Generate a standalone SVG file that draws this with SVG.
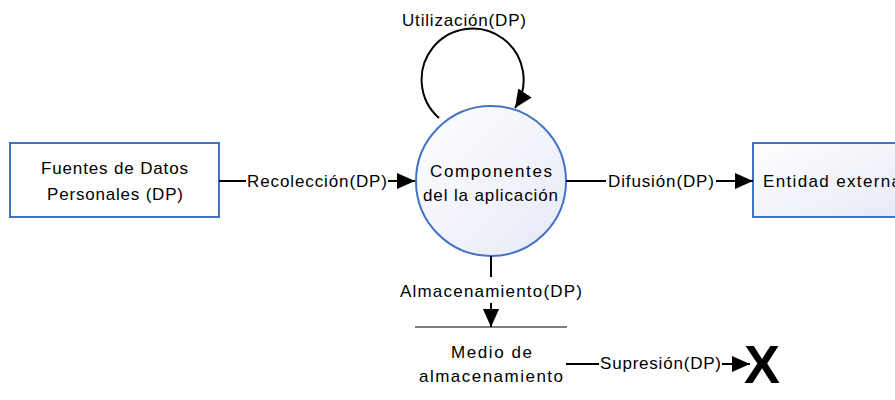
<svg xmlns="http://www.w3.org/2000/svg" width="895" height="400" viewBox="0 0 895 400">
<defs>
<linearGradient id="gc" x1="0" y1="0" x2="1" y2="1"><stop offset="0" stop-color="#ffffff"/><stop offset="1" stop-color="#e6e9f6"/></linearGradient>
<linearGradient id="gb" x1="0" y1="0" x2="1" y2="1"><stop offset="0" stop-color="#ffffff"/><stop offset="1" stop-color="#e6e9f6"/></linearGradient>
<marker id="ah2" viewBox="0 0 10 10" refX="10" refY="5" markerWidth="18" markerHeight="18" markerUnits="userSpaceOnUse" orient="auto"><path d="M0,0.5 L10,5 L0,9.5 Z" fill="#000"/></marker>
</defs>
<style>
text{font-family:"Liberation Sans",Arial,sans-serif;font-size:17px;fill:#000}
.c{text-anchor:middle}
.node{stroke:#4472c4;stroke-width:2}
.ln{stroke:#000;stroke-width:2;fill:none}
</style>
<g id="fuentes">
<rect class="node" x="10" y="143" width="209" height="74" fill="#fff"/>
<text x="114.5" y="174" class="c" textLength="147">Fuentes de Datos</text>
<text x="115" y="200" class="c" textLength="136">Personales (DP)</text>
</g>
<g id="componentes">
<circle class="node" cx="491" cy="181" r="75" fill="url(#gc)"/>
<text x="491" y="177" class="c" textLength="122">Componentes</text>
<text x="490.5" y="201" class="c" textLength="135">del la aplicación</text>
</g>
<g id="entidad">
<rect class="node" x="753" y="143" width="160" height="74" fill="url(#gb)"/>
<text x="763" y="187" textLength="138">Entidad externa</text>
</g>
<g id="medio">
<line x1="415" y1="327" x2="567" y2="327" stroke="#000" stroke-width="1"/>
<text x="491.5" y="358" class="c" textLength="81">Medio de</text>
<text x="491" y="382" class="c" textLength="144">almacenamiento</text>
</g>
<g id="fin">
<text x="762" y="383" class="c" style="font-size:54px;font-weight:bold" textLength="31">X</text>
</g>
<g id="connectors">
<line class="ln" x1="219" y1="181" x2="246" y2="181"/>
<text x="317" y="187" class="c" textLength="140">Recolección(DP)</text>
<line class="ln" x1="388" y1="181" x2="415" y2="181" marker-end="url(#ah2)"/>
<line class="ln" x1="566" y1="181" x2="606" y2="181"/>
<text x="661" y="187" class="c" textLength="106">Difusión(DP)</text>
<line class="ln" x1="716" y1="181" x2="753" y2="181" marker-end="url(#ah2)"/>
<path class="ln" d="M439,118 A51,51 0 1 1 515,108" marker-end="url(#ah2)"/>
<text x="464" y="26" class="c" textLength="124">Utilización(DP)</text>
<line class="ln" x1="491" y1="256" x2="491" y2="277"/>
<text x="491" y="297" class="c" textLength="182">Almacenamiento(DP)</text>
<line class="ln" x1="491" y1="303" x2="491" y2="327" marker-end="url(#ah2)"/>
<line class="ln" x1="566" y1="364" x2="599" y2="364"/>
<text x="660.5" y="369" class="c" textLength="121">Supresión(DP)</text>
<line class="ln" x1="722" y1="364" x2="750" y2="364" marker-end="url(#ah2)"/>
</g>
</svg>
